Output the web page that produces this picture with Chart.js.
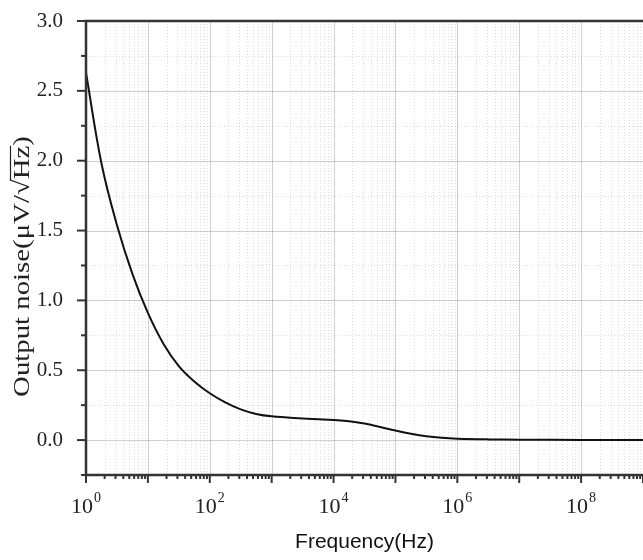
<!DOCTYPE html>
<html>
<head>
<meta charset="utf-8">
<script src="https://cdn.jsdelivr.net/npm/chart.js@4.4.1/dist/chart.umd.min.js"></script>
<style>
  html, body { margin: 0; padding: 0; background: #fff; }
</style>
</head>
<body>
<canvas id="noiseChart" width="643" height="560"></canvas>
<script>
// output noise curve (about 4 points per decade)
const frequencies = [1, 1.78, 3.16, 5.62, 10, 17.8, 31.6, 56.2, 100, 178, 316, 562,
  1e3, 3.16e3, 1e4, 1.78e4, 3.16e4, 5.62e4, 1e5, 1.78e5, 3.16e5, 5.62e5,
  1e6, 3.16e6, 1e7, 1e8, 1e9];
const noise = [2.63, 1.98, 1.54, 1.19, 0.91, 0.69, 0.53, 0.42, 0.335, 0.27, 0.22, 0.187,
  0.17, 0.155, 0.143, 0.135, 0.118, 0.094, 0.068, 0.045, 0.027, 0.016,
  0.01, 0.005, 0.003, 0.001, 0];

// axis labels
const xTickExponents = [0, 2, 4, 6, 8];
const yTickLabels = ["0.0", "0.5", "1.0", "1.5", "2.0", "2.5", "3.0"];
const xTitle = "Frequency(Hz)";
const yTitle = "Output noise(\u03BCV/\u221AHz)";

const serif = "'Liberation Serif', 'Times New Roman', serif";

// grid, frame, tick marks, x labels and y title
const frame = {
  id: "frame",
  beforeDatasetsDraw(chart) {
    const { ctx, chartArea: a, scales: { x, y } } = chart;
    ctx.save();
    ctx.beginPath();
    ctx.rect(a.left, a.top, a.right - a.left, a.bottom - a.top);
    ctx.clip();
    ctx.lineWidth = 1;

    // minor grid, dotted
    ctx.strokeStyle = "rgba(0,0,0,0.13)";
    ctx.setLineDash([1, 2]);
    for (let d = x.min; d < x.max; d *= 10) {
      for (let m = 2; m <= 9; m++) {
        const px = Math.round(x.getPixelForValue(d * m)) + 0.5;
        ctx.beginPath(); ctx.moveTo(px, a.top); ctx.lineTo(px, a.bottom); ctx.stroke();
      }
    }
    y.ticks.forEach(t => {
      if (Math.abs(t.value * 2 - Math.round(t.value * 2)) < 1e-6) return;
      const py = Math.round(y.getPixelForValue(t.value)) + 0.5;
      ctx.beginPath(); ctx.moveTo(a.left, py); ctx.lineTo(a.right, py); ctx.stroke();
    });

    // major grid
    ctx.setLineDash([]);
    ctx.strokeStyle = "rgba(0,0,0,0.18)";
    for (let d = x.min; d <= x.max * 1.0001; d *= 10) {
      const px = Math.round(x.getPixelForValue(d)) + 0.5;
      ctx.beginPath(); ctx.moveTo(px, a.top); ctx.lineTo(px, a.bottom); ctx.stroke();
    }
    yTickLabels.forEach(s => {
      const py = Math.round(y.getPixelForValue(parseFloat(s))) + 0.5;
      ctx.beginPath(); ctx.moveTo(a.left, py); ctx.lineTo(a.right, py); ctx.stroke();
    });
    ctx.restore();
  },
  afterDatasetsDraw(chart) {
    const { ctx, chartArea: a, scales: { x, y } } = chart;
    ctx.save();
    ctx.strokeStyle = "#333";

    // tick marks
    ctx.lineWidth = 2;
    for (let d = x.min; d <= x.max * 1.0001; d *= 10) {
      const px = x.getPixelForValue(d);
      ctx.beginPath(); ctx.moveTo(px, a.bottom); ctx.lineTo(px, a.bottom + 8); ctx.stroke();
      if (d >= x.max) break;
      for (let m = 2; m <= 9; m++) {
        const pm = x.getPixelForValue(d * m);
        ctx.beginPath(); ctx.moveTo(pm, a.bottom); ctx.lineTo(pm, a.bottom + 4); ctx.stroke();
      }
    }
    y.ticks.forEach(t => {
      const major = Math.abs(t.value * 2 - Math.round(t.value * 2)) < 1e-6;
      const py = y.getPixelForValue(t.value);
      ctx.beginPath(); ctx.moveTo(a.left, py); ctx.lineTo(a.left - (major ? 9 : 5), py); ctx.stroke();
    });

    // axis lines (top, left, bottom)
    ctx.lineWidth = 2.5;
    ctx.beginPath();
    ctx.moveTo(a.right + 2, a.top);
    ctx.lineTo(a.left, a.top);
    ctx.lineTo(a.left, a.bottom);
    ctx.lineTo(a.right + 2, a.bottom);
    ctx.stroke();

    // x labels 10^n
    ctx.fillStyle = "#222";
    ctx.textBaseline = "alphabetic";
    ctx.textAlign = "left";
    xTickExponents.forEach(e => {
      const px = x.getPixelForValue(Math.pow(10, e));
      ctx.font = "22px " + serif;
      const wb = ctx.measureText("10").width;
      ctx.font = "14px " + serif;
      const we = ctx.measureText(String(e)).width;
      const x0 = px - (wb + we + 1) / 2;
      ctx.font = "22px " + serif;
      ctx.fillText("10", x0, 513);
      ctx.font = "14px " + serif;
      ctx.fillText(String(e), x0 + wb + 1, 502);
    });

    // y title, rotated, with the bar of the root over Hz
    ctx.translate(29, 266.5);
    ctx.rotate(-Math.PI / 2);
    ctx.font = "24px " + serif;
    const w = ctx.measureText(yTitle).width;
    const stretch = Math.min(1.2, 273 / w);
    ctx.scale(stretch, 1);
    const head = yTitle.slice(0, yTitle.indexOf("Hz"));
    const wh = ctx.measureText(head).width;
    const wz = ctx.measureText("Hz").width;
    ctx.fillText(yTitle, -w / 2, 0);
    ctx.lineWidth = 1.2;
    ctx.strokeStyle = "#222";
    ctx.beginPath();
    ctx.moveTo(-w / 2 + wh - 1, -18.5);
    ctx.lineTo(-w / 2 + wh + wz, -18.5);
    ctx.stroke();
    ctx.restore();
  }
};

const ctx = document.getElementById("noiseChart").getContext("2d");
new Chart(ctx, {
  type: "line",
  data: {
    datasets: [
      {
        label: "Output noise",
        data: frequencies.map((f, i) => ({ x: f, y: noise[i] })),
        borderColor: "#111",
        borderWidth: 2,
        pointRadius: 0,
        tension: 0.4,
        fill: false,
      },
    ],
  },
  options: {
    responsive: false,
    animation: false,
    devicePixelRatio: 1,
    layout: { padding: { top: 21, right: 0, left: 0, bottom: 0 } },
    plugins: { legend: { display: false }, tooltip: { enabled: false } },
    scales: {
      x: {
        type: "logarithmic",
        min: 1,
        max: 1e9,
        grid: { display: false },
        border: { display: false },
        ticks: { display: false },
        title: {
          display: true,
          text: xTitle,
          color: "#111",
          font: { family: "'Liberation Sans', Arial, sans-serif", size: 21 },
          padding: { top: 0, bottom: 5 },
        },
        afterFit: (scale) => { scale.height = 85; },
      },
      y: {
        min: -0.25,
        max: 3,
        grid: { display: false },
        border: { display: false },
        ticks: {
          stepSize: 0.25,
          autoSkip: false,
          padding: 15,
          color: "#222",
          font: { family: serif, size: 21 },
          callback: (v) => {
            const s = v.toFixed(1);
            return yTickLabels.includes(s) && Math.abs(v * 2 - Math.round(v * 2)) < 1e-6 ? s : "";
          },
        },
        afterFit: (scale) => {
          scale.width = 86;
          scale.paddingTop = 0;
          scale.paddingBottom = 0;
        },
      },
    },
  },
  plugins: [frame],
});
</script>
</body>
</html>
